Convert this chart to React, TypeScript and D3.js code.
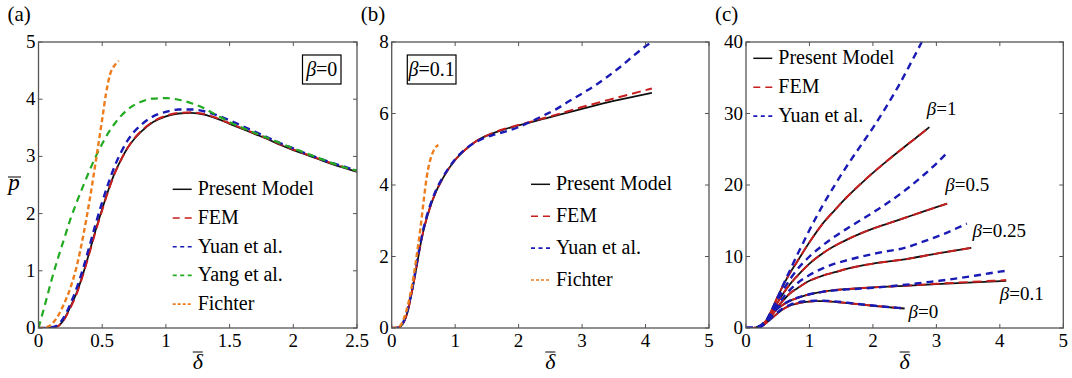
import React from 'react';
import * as d3 from 'd3';

const FONT = 'Liberation Serif';

// ---------- Panel (a): beta = 0 ----------
const deltaA = [0,0.05,0.1,0.15,0.2,0.25,0.3,0.35,0.4,0.45,0.5,0.55,0.6,0.65,0.7,0.75,0.8,0.9,1.0,1.1,1.2,1.3,1.4,1.5,1.6,1.7,1.8,1.9,2.0,2.1,2.2,2.3,2.4,2.5];
const presentA = [0,0,0.005,0.03,0.15,0.37,0.62,0.95,1.33,1.72,2.08,2.42,2.72,2.95,3.15,3.3,3.42,3.6,3.7,3.75,3.76,3.73,3.66,3.57,3.48,3.39,3.3,3.2,3.11,3.03,2.95,2.87,2.8,2.73];
const femA = [0,0,0.005,0.03,0.14,0.35,0.6,0.93,1.31,1.7,2.06,2.41,2.71,2.95,3.15,3.31,3.43,3.61,3.71,3.76,3.77,3.74,3.67,3.58,3.49,3.4,3.31,3.21,3.12,3.04,2.96,2.88,2.81,2.74];
const yuanA = [0,0,0.01,0.05,0.19,0.42,0.7,1.04,1.43,1.83,2.2,2.54,2.84,3.08,3.28,3.43,3.54,3.7,3.78,3.82,3.82,3.79,3.72,3.63,3.53,3.43,3.33,3.23,3.14,3.05,2.97,2.89,2.82,2.75];
const deltaYangA = [0,0.05,0.1,0.15,0.2,0.25,0.3,0.35,0.4,0.45,0.5,0.55,0.6,0.7,0.8,0.9,1.0,1.1,1.2,1.3,1.4,1.5,1.6,1.8,2.0,2.2,2.4,2.5];
const yangA = [0,0.4,0.82,1.2,1.55,1.9,2.2,2.48,2.75,3.0,3.22,3.42,3.58,3.82,3.95,4.01,4.02,3.99,3.93,3.84,3.72,3.6,3.5,3.32,3.14,2.97,2.81,2.75];
const deltaFichA = [0,0.05,0.1,0.15,0.2,0.25,0.3,0.35,0.4,0.45,0.5,0.53,0.56,0.6,0.63];
const fichA = [0,0.01,0.06,0.2,0.42,0.7,1.08,1.6,2.22,2.92,3.65,4.1,4.42,4.6,4.67];

// ---------- Panel (b): beta = 0.1 ----------
const deltaB = [0,0.1,0.15,0.2,0.25,0.3,0.35,0.4,0.45,0.5,0.6,0.7,0.8,0.9,1.0,1.2,1.4,1.6,1.8,2.0,2.5,3.0,3.5,4.1];
const presentB = [0,0.01,0.06,0.2,0.45,0.85,1.3,1.8,2.3,2.72,3.35,3.82,4.17,4.46,4.7,5.05,5.3,5.45,5.57,5.67,5.9,6.13,6.35,6.58];
const femB = [0,0.01,0.06,0.2,0.45,0.85,1.3,1.8,2.3,2.72,3.35,3.82,4.17,4.46,4.7,5.05,5.3,5.46,5.58,5.68,5.92,6.18,6.42,6.7];
const deltaYuanB = [0,0.1,0.15,0.2,0.25,0.3,0.35,0.4,0.45,0.5,0.6,0.7,0.8,0.9,1.0,1.2,1.4,1.6,1.8,2.0,2.2,2.4,2.6,2.8,3.0,3.2,3.4,3.6,3.8,4.0,4.1];
const yuanB = [0,0.01,0.07,0.23,0.5,0.9,1.36,1.87,2.36,2.78,3.4,3.86,4.2,4.48,4.72,5.06,5.27,5.4,5.5,5.62,5.78,5.95,6.13,6.35,6.56,6.78,7.03,7.3,7.6,7.88,8.0];
const deltaFichB = [0,0.1,0.15,0.2,0.25,0.3,0.35,0.4,0.45,0.5,0.55,0.6,0.65,0.7,0.735];
const fichB = [0,0.02,0.1,0.3,0.6,1.0,1.5,2.1,2.75,3.5,4.2,4.65,4.92,5.07,5.12];

// ---------- Panel (c): several beta ----------
const deltaC1 = [0,0.1,0.2,0.3,0.4,0.5,0.6,0.7,0.8,1.0,1.2,1.4,1.6,1.8,2.0,2.2,2.4,2.6,2.8,2.89];
const presentC1 = [0,0,0.1,0.8,2.4,4.4,6.2,7.8,9.2,12.0,14.5,16.5,18.4,20.1,21.7,23.2,24.65,26.05,27.45,28.1];
const deltaYuanC1 = [0,0.1,0.2,0.3,0.4,0.5,0.6,0.7,0.8,0.9,1.0,1.2,1.4,1.6,1.8,2.0,2.2,2.4,2.6,2.77];
const yuanC1 = [0,0,0.1,0.8,2.4,4.3,6.3,8.2,10.1,11.9,13.7,17.0,20.0,22.8,25.4,28.0,30.8,33.8,37.1,40];
const deltaC05 = [0,0.1,0.2,0.3,0.4,0.5,0.6,0.7,0.8,1.0,1.2,1.4,1.6,1.8,2.0,2.2,2.4,2.6,2.8,3.0,3.17];
const presentC05 = [0,0,0.1,0.7,2.0,3.6,5.0,6.2,7.2,9.0,10.4,11.5,12.4,13.2,13.9,14.5,15.1,15.7,16.3,16.9,17.4];
const yuanC05 = [0,0,0.1,0.75,2.2,3.9,5.5,6.9,8.1,10.0,11.5,12.8,13.95,15.05,16.15,17.3,18.55,19.9,21.4,23.0,24.5];
const deltaC025 = [0,0.1,0.2,0.3,0.4,0.5,0.6,0.7,0.8,1.0,1.2,1.4,1.6,1.8,2.0,2.2,2.5,3.0,3.55];
const presentC025 = [0,0,0.1,0.6,1.7,3.0,4.0,4.9,5.5,6.6,7.3,7.8,8.3,8.7,9.0,9.25,9.6,10.4,11.2];
const deltaYuanC025 = [0,0.1,0.2,0.3,0.4,0.5,0.6,0.7,0.8,1.0,1.2,1.4,1.6,1.8,2.0,2.2,2.5,2.8,3.1,3.48];
const yuanC025 = [0,0,0.1,0.65,1.85,3.2,4.4,5.4,6.2,7.4,8.3,9.0,9.5,9.95,10.35,10.7,11.2,12.1,13.1,14.6];

// ---------- axes ----------
const xTicksA = [0,0.5,1,1.5,2,2.5];
const yTicksA = [0,1,2,3,4,5];
const xTicksB = [0,1,2,3,4,5];
const yTicksB = [0,2,4,6,8];
const xTicksC = [0,1,2,3,4,5];
const yTicksC = [0,10,20,30,40];

const legendA = ['Present Model','FEM','Yuan et al.','Yang et al.','Fichter'];
const legendB = ['Present Model','FEM','Yuan et al.','Fichter'];
const legendC = ['Present Model','FEM','Yuan et al.'];

const betaLabelsC = [
  { t: '=1', x: 2.85, y: 29.8 },
  { t: '=0.5', x: 3.14, y: 19.1 },
  { t: '=0.25', x: 3.57, y: 12.7 },
  { t: '=0.1', x: 4.0, y: 3.9 },
  { t: '=0', x: 2.56, y: 1.36 },
];

type Kind = 'present' | 'fem' | 'yuan' | 'yang' | 'fichter';
const STYLE: Record<Kind, { stroke: string; width: number; dash?: string }> = {
  present: { stroke: '#111111', width: 1.8 },
  fem: { stroke: '#c81e1e', width: 2.0, dash: '9,5' },
  yuan: { stroke: '#1a1ab4', width: 2.4, dash: '7,5' },
  yang: { stroke: '#22aa22', width: 2.2, dash: '7,5' },
  fichter: { stroke: '#ec7c1c', width: 2.4, dash: '5,3' },
};
const LEGEND_KIND: Record<string, Kind> = {
  'Present Model': 'present', FEM: 'fem', 'Yuan et al.': 'yuan', 'Yang et al.': 'yang', Fichter: 'fichter',
};
const LEGEND_DASH: Record<Kind, string | undefined> = {
  present: undefined, fem: '7,5', yuan: '4,3.5', yang: '4,3.5', fichter: '3,2',
};

type Series = { x: number[]; y: number[]; kind: Kind };

interface PanelProps {
  id: string;
  tag: string;
  left: number; right: number; top: number; bottom: number;
  xDomain: [number, number]; yDomain: [number, number];
  xTicks: number[]; yTicks: number[];
  series: Series[];
  legend: string[]; legendX: number; legendY: number; legendDy: number;
  box?: { text: string; x: number; y: number; w: number };
  yLabel?: boolean;
  annotations?: { t: string; x: number; y: number }[];
}

const ts = (size: number, italic = false): React.CSSProperties => ({
  fontFamily: FONT, fontSize: `${size}px`, fontStyle: italic ? 'italic' : 'normal',
});

function Panel(p: PanelProps) {
  const xs = d3.scaleLinear().domain(p.xDomain).range([p.left, p.right]);
  const ys = d3.scaleLinear().domain(p.yDomain).range([p.bottom, p.top]);
  const line = d3.line<[number, number]>().x(d => xs(d[0])).y(d => ys(d[1])).curve(d3.curveMonotoneX);
  const tl = 4;
  const axisColor = '#555';
  const cx = (p.left + p.right) / 2;
  return (
    <g>
      <defs>
        <clipPath id={`clip-${p.id}`}>
          <rect x={p.left} y={p.top - 1} width={p.right - p.left} height={p.bottom - p.top + 1} />
        </clipPath>
      </defs>
      <text x={p.left - 31} y={21} fontFamily={FONT} style={ts(21)}>{p.tag}</text>
      <g clipPath={`url(#clip-${p.id})`}>
        {p.series.map((s, i) => {
          const st = STYLE[s.kind];
          const pts = s.x.map((v, j) => [v, s.y[j]] as [number, number]);
          return (
            <path key={i} d={line(pts) || ''} fill="none" stroke={st.stroke} strokeWidth={st.width}
              strokeDasharray={st.dash} strokeLinecap="butt" />
          );
        })}
      </g>
      <rect x={p.left} y={p.top} width={p.right - p.left} height={p.bottom - p.top} fill="none" stroke={axisColor} strokeWidth={1.3} />
      {p.xTicks.map((t, i) => (
        <g key={`xt${i}`}>
          <line x1={xs(t)} x2={xs(t)} y1={p.bottom} y2={p.bottom - tl} stroke={axisColor} strokeWidth={1} />
          <line x1={xs(t)} x2={xs(t)} y1={p.top} y2={p.top + tl} stroke={axisColor} strokeWidth={1} />
          <text x={xs(t)} y={p.bottom + 19} textAnchor="middle" fontFamily={FONT} style={ts(19)}>{String(t)}</text>
        </g>
      ))}
      {p.yTicks.map((t, i) => (
        <g key={`yt${i}`}>
          <line x1={p.left} x2={p.left + tl} y1={ys(t)} y2={ys(t)} stroke={axisColor} strokeWidth={1} />
          <line x1={p.right} x2={p.right - tl} y1={ys(t)} y2={ys(t)} stroke={axisColor} strokeWidth={1} />
          <text x={p.left - 3} y={ys(t) + 6} textAnchor="end" fontFamily={FONT} style={ts(19)}>{String(t)}</text>
        </g>
      ))}
      <text x={cx} y={369} textAnchor="middle" fontFamily={FONT} style={ts(22, true)}>δ</text>
      <line x1={cx - 5} x2={cx + 5} y1={352} y2={352} stroke="#000" strokeWidth={1} />
      {p.yLabel && (
        <g>
          <text x={14} y={190} textAnchor="middle" fontFamily={FONT} style={ts(23, true)}>p</text>
          <line x1={8} x2={21} y1={177} y2={177} stroke="#000" strokeWidth={1} />
        </g>
      )}
      {p.box && (
        <g>
          <rect x={p.box.x} y={p.box.y} width={p.box.w} height={29} fill="#fff" stroke="#000" strokeWidth={1.2} />
          <text x={p.box.x + p.box.w / 2} y={p.box.y + 21} textAnchor="middle" fontFamily={FONT} style={ts(20)}>
            <tspan style={ts(20, true)}>β</tspan>{p.box.text}
          </text>
        </g>
      )}
      {p.legend.map((name, i) => {
        const k = LEGEND_KIND[name];
        const y = p.legendY + i * p.legendDy;
        return (
          <g key={`lg${i}`}>
            <line x1={p.legendX} x2={p.legendX + 19} y1={y} y2={y} stroke={STYLE[k].stroke}
              strokeWidth={k === 'present' ? 1.5 : 1.6} strokeDasharray={LEGEND_DASH[k]} />
            <text x={p.legendX + 25} y={y + 6} fontFamily={FONT} style={ts(20)}>{name}</text>
          </g>
        );
      })}
      {p.annotations && p.annotations.map((a, i) => (
        <text key={`an${i}`} x={xs(a.x)} y={ys(a.y)} fontFamily={FONT} style={ts(19)}>
          <tspan style={ts(19, true)}>β</tspan>{a.t}
        </text>
      ))}
    </g>
  );
}

const seriesA: Series[] = [
  { x: deltaA, y: presentA, kind: 'present' },
  { x: deltaA, y: femA, kind: 'fem' },
  { x: deltaA, y: yuanA, kind: 'yuan' },
  { x: deltaYangA, y: yangA, kind: 'yang' },
  { x: deltaFichA, y: fichA, kind: 'fichter' },
];
const seriesB: Series[] = [
  { x: deltaB, y: presentB, kind: 'present' },
  { x: deltaB, y: femB, kind: 'fem' },
  { x: deltaYuanB, y: yuanB, kind: 'yuan' },
  { x: deltaFichB, y: fichB, kind: 'fichter' },
];
const seriesC: Series[] = [
  { x: deltaC1, y: presentC1, kind: 'present' },
  { x: deltaC05, y: presentC05, kind: 'present' },
  { x: deltaC025, y: presentC025, kind: 'present' },
  { x: deltaB, y: presentB, kind: 'present' },
  { x: deltaA, y: presentA, kind: 'present' },
  { x: deltaC1, y: presentC1, kind: 'fem' },
  { x: deltaC05, y: presentC05, kind: 'fem' },
  { x: deltaC025, y: presentC025, kind: 'fem' },
  { x: deltaB, y: femB, kind: 'fem' },
  { x: deltaA, y: femA, kind: 'fem' },
  { x: deltaYuanC1, y: yuanC1, kind: 'yuan' },
  { x: deltaC05, y: yuanC05, kind: 'yuan' },
  { x: deltaYuanC025, y: yuanC025, kind: 'yuan' },
  { x: deltaYuanB, y: yuanB, kind: 'yuan' },
  { x: deltaA, y: yuanA, kind: 'yuan' },
];

export default function App() {
  return (
    <svg width={1072} height={378} style={{ position: 'absolute', left: 0, top: 0, background: '#fff', fontFamily: FONT }}>
      <rect x={0} y={0} width={1072} height={378} fill="#fff" />
      <Panel id="a" tag="(a)" left={38.5} right={357} top={42} bottom={328}
        xDomain={[0, 2.5]} yDomain={[0, 5]} xTicks={xTicksA} yTicks={yTicksA}
        series={seriesA} legend={legendA} legendX={172.7} legendY={189.3} legendDy={28.7}
        box={{ text: '=0', x: 302.5, y: 55, w: 38.5 }} yLabel />
      <Panel id="b" tag="(b)" left={391.7} right={709} top={42} bottom={328}
        xDomain={[0, 5]} yDomain={[0, 8]} xTicks={xTicksB} yTicks={yTicksB}
        series={seriesB} legend={legendB} legendX={531} legendY={184.3} legendDy={31.9}
        box={{ text: '=0.1', x: 407.3, y: 55, w: 48.7 }} />
      <Panel id="c" tag="(c)" left={746} right={1063.3} top={42} bottom={328}
        xDomain={[0, 5]} yDomain={[0, 40]} xTicks={xTicksC} yTicks={yTicksC}
        series={seriesC} legend={legendC} legendX={753.3} legendY={58.3} legendDy={28.9}
        annotations={betaLabelsC} />
    </svg>
  );
}
